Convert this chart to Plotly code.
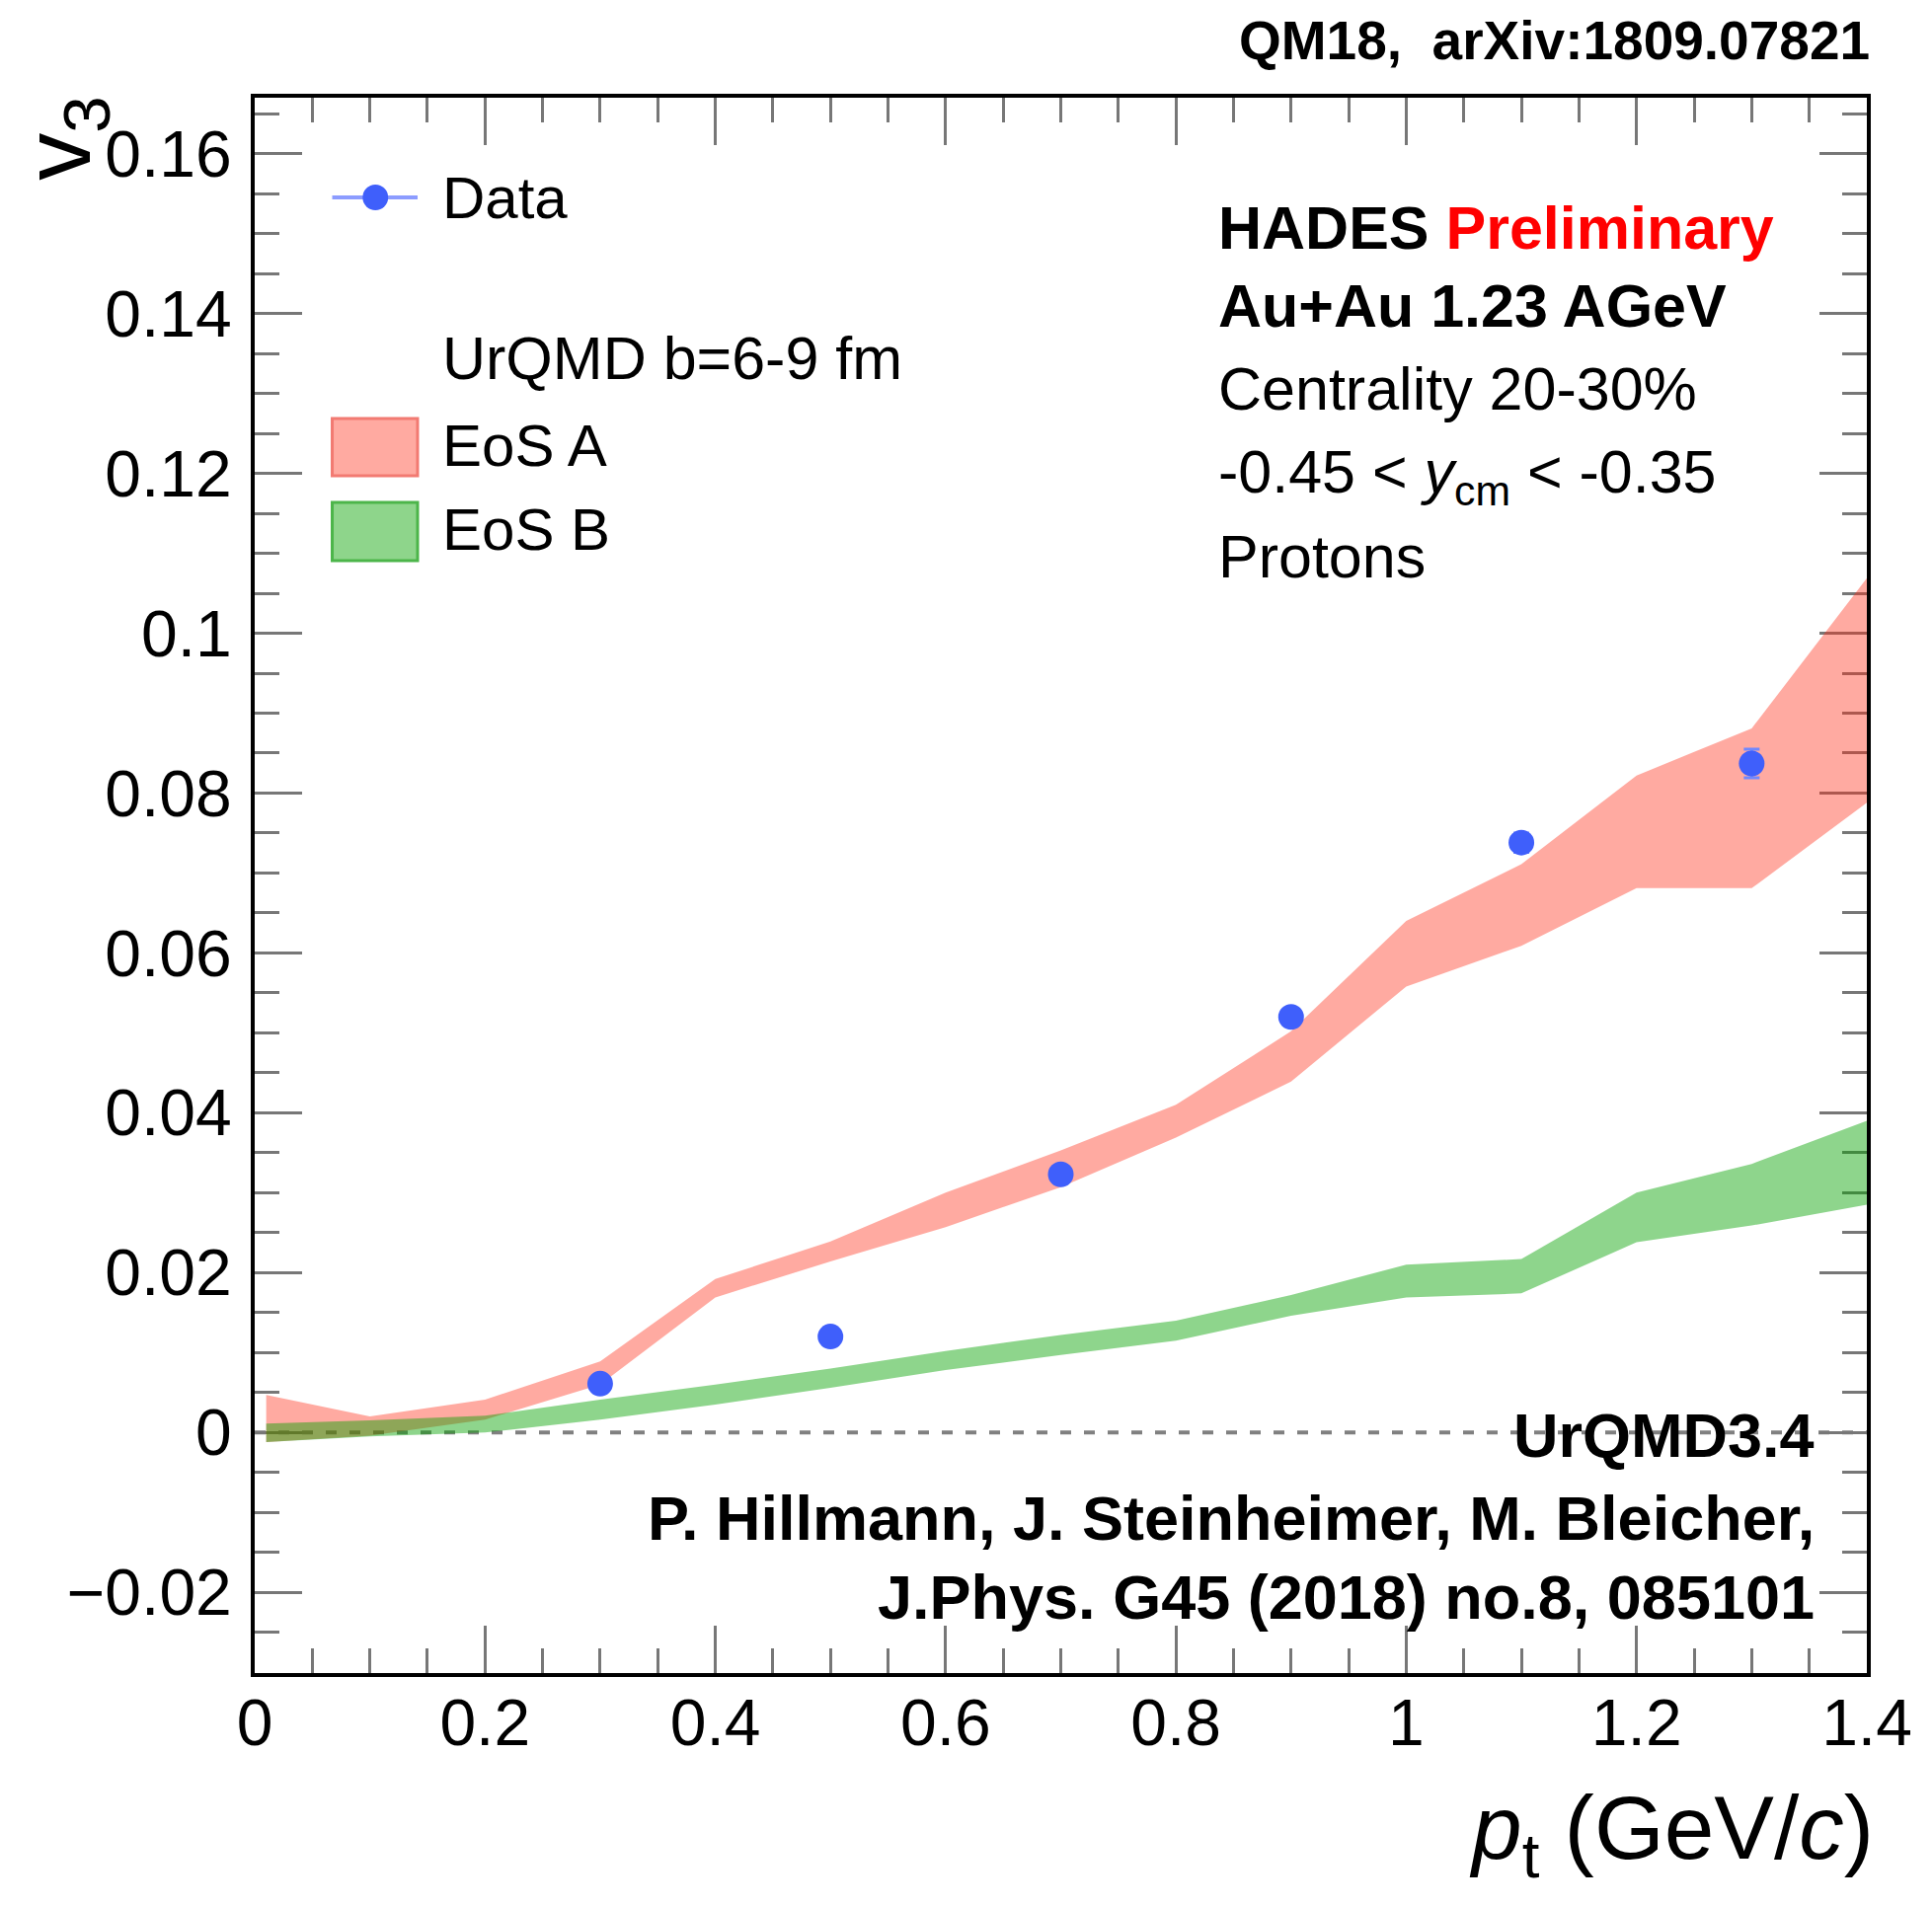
import plotly.graph_objects as go

# ---------------- data ----------------
pt_data = [0.3, 0.5, 0.7, 0.9, 1.1, 1.3]
v3_data = [0.0061, 0.0120, 0.0323, 0.0520, 0.0738, 0.0837]
v3_err = [0.0004, 0.0005, 0.0007, 0.0009, 0.0012, 0.0018]

pt_model = [0.01, 0.1, 0.2, 0.3, 0.4, 0.5, 0.6, 0.7, 0.8, 0.9, 1.0, 1.1, 1.2, 1.3, 1.4]
eosA_upper = [0.0047, 0.0020, 0.0041, 0.0089, 0.0192, 0.0239, 0.0300, 0.0353, 0.0410,
              0.0502, 0.0640, 0.0711, 0.0822, 0.0881, 0.1069]
eosA_lower = [-0.0012, -0.0004, 0.0016, 0.0060, 0.0169, 0.0214, 0.0257, 0.0307, 0.0369,
              0.0439, 0.0558, 0.0609, 0.0681, 0.0681, 0.0788]
eosB_upper = [0.0011, 0.0015, 0.0021, 0.0041, 0.0060, 0.0080, 0.0102, 0.0122, 0.0140,
              0.0172, 0.0210, 0.0217, 0.0300, 0.0336, 0.0390]
eosB_lower = [-0.0012, -0.0005, 0.0000, 0.0016, 0.0035, 0.0056, 0.0078, 0.0097, 0.0115,
              0.0146, 0.0169, 0.0174, 0.0238, 0.0259, 0.0285]

x_ticks = [0, 0.2, 0.4, 0.6, 0.8, 1.0, 1.2, 1.4]
x_ticklabels = ["0", "0.2", "0.4", "0.6", "0.8", "1", "1.2", "1.4"]
y_ticks = [-0.02, 0, 0.02, 0.04, 0.06, 0.08, 0.10, 0.12, 0.14, 0.16]
y_ticklabels = ["\u22120.02", "0", "0.02", "0.04", "0.06", "0.08", "0.1", "0.12", "0.14", "0.16"]

# ---------------- style ----------------
FONT = "Liberation Sans, Arial, Helvetica, sans-serif"
PINK = "rgba(255,42,20,0.40)"
GREEN = "rgba(4,162,0,0.45)"
BLUE = "#3f5ffb"

# the page body has an 8 px margin; the figure is sized to fit inside it
OFF = 8
W, H = 1957 - 2 * OFF, 1931 - 2 * OFF
# plot area in page pixels
PL, PR, PT, PB = 258, 1901, 99, 1695
L, T = PL - OFF, PT - OFF
R, B = W - (PR - OFF), H - (PB - OFF)
PW, PH = PR - PL, PB - PT


def px(x):
    return (x - PL) / PW


def py(y):
    return (PB - y) / PH


fig = go.Figure()

# EoS A band
fig.add_trace(go.Scatter(x=pt_model + pt_model[::-1], y=eosA_upper + eosA_lower[::-1],
                         fill="toself", fillcolor=PINK, mode="lines",
                         line=dict(width=0), hoverinfo="skip", showlegend=False))
# EoS B band
fig.add_trace(go.Scatter(x=pt_model + pt_model[::-1], y=eosB_upper + eosB_lower[::-1],
                         fill="toself", fillcolor=GREEN, mode="lines",
                         line=dict(width=0), hoverinfo="skip", showlegend=False))
# Data
fig.add_trace(go.Scatter(x=pt_data, y=v3_data, mode="markers",
                         marker=dict(size=26, color=BLUE, line=dict(width=0)),
                         error_y=dict(type="data", array=v3_err, color="#7088ff",
                                      thickness=3, width=8),
                         showlegend=False))

axis_common = dict(
    ticks="inside", ticklen=48, tickwidth=3, tickcolor="#777777",
    showline=True, linecolor="black", linewidth=4, mirror="ticks",
    showgrid=False, zeroline=False, layer="below traces",
    tickfont=dict(size=66, color="black", family=FONT),
)

fig.update_layout(
    width=W, height=H,
    margin=dict(l=L, r=R, t=T, b=B, pad=0),
    paper_bgcolor="white", plot_bgcolor="white",
    font=dict(family=FONT, color="black"),
    showlegend=False,
    xaxis=dict(range=[0, 1.4], tickmode="array", tickvals=x_ticks, ticktext=x_ticklabels,
               minor=dict(tick0=0, dtick=0.05, ticks="inside", ticklen=25, tickwidth=3,
                          tickcolor="#777777", showgrid=False),
               ticklabelstandoff=-10, **axis_common),
    yaxis=dict(range=[-0.0301, 0.167], tickmode="array", tickvals=y_ticks, ticktext=y_ticklabels,
               minor=dict(tick0=0, dtick=0.005, ticks="inside", ticklen=25, tickwidth=3,
                          tickcolor="#777777", showgrid=False),
               ticklabelstandoff=6, **axis_common),
)

# zero dashed line
fig.add_shape(type="line", xref="x", yref="y", x0=0, x1=1.4, y0=0, y1=0,
              line=dict(color="#808080", width=4, dash="11px,13px"), layer="below")

ann = []


def text(x, y, s, size, xanchor="left", yanchor="middle", color="black", angle=0):
    ann.append(dict(x=x, y=y, xref="paper", yref="paper", text=s, showarrow=False,
                    xanchor=xanchor, yanchor=yanchor, textangle=angle,
                    font=dict(size=size, color=color, family=FONT)))


# top reference
text(px(1906), py(41), "<b>QM18,  arXiv:1809.07821</b>", 55, xanchor="right")

# right info block
xr = px(1238)
text(xr, py(231), "<b>HADES <span style='color:#ff0000'>Preliminary</span></b>", 61)
text(xr, py(310), "<b>Au+Au 1.23 AGeV</b>", 61)
text(xr, py(394), "Centrality 20-30%", 61)
text(xr, py(482), "-0.45 < <i>y</i><sub>cm</sub> < -0.35", 61)
text(xr, py(564), "Protons", 61)

# bottom-right reference
xb = px(1850)
text(xb, py(1454), "<b>UrQMD3.4</b>", 63, xanchor="right")
text(xb, py(1538), "<b>P. Hillmann, J. Steinheimer, M. Bleicher,</b>", 63, xanchor="right")
text(xb, py(1618), "<b>J.Phys. G45 (2018) no.8, 085101</b>", 63, xanchor="right")

# legend
text(px(447), py(200), "Data", 60)
text(px(447), py(363), "UrQMD b=6-9 fm", 61)
text(px(447), py(451), "EoS A", 60)
text(px(447), py(536), "EoS B", 60)

fig.add_shape(type="line", xref="paper", yref="paper", x0=px(337), x1=px(424),
              y0=py(200), y1=py(200), line=dict(color="#8c9cff", width=4))
fig.add_shape(type="circle", xref="paper", yref="paper", x0=px(368), x1=px(394),
              y0=py(213), y1=py(187), fillcolor=BLUE, line=dict(width=0))
fig.add_shape(type="rect", xref="paper", yref="paper", x0=px(337), x1=px(424),
              y0=py(482), y1=py(424), fillcolor="#ffaaa1", line=dict(color="#f27a72", width=3))
fig.add_shape(type="rect", xref="paper", yref="paper", x0=px(337), x1=px(424),
              y0=py(568), y1=py(509), fillcolor="#8ed58b", line=dict(color="#4cb54a", width=3))

# axis titles
text(px(63), py(96), "v<sub>3</sub>", 96, xanchor="center", yanchor="top", angle=-90)
text(px(1910), py(1858), "<i>p</i><sub>t</sub> (GeV/<i>c</i>)", 91, xanchor="right")

fig.update_layout(annotations=ann)
fig.write_html("out.html")
